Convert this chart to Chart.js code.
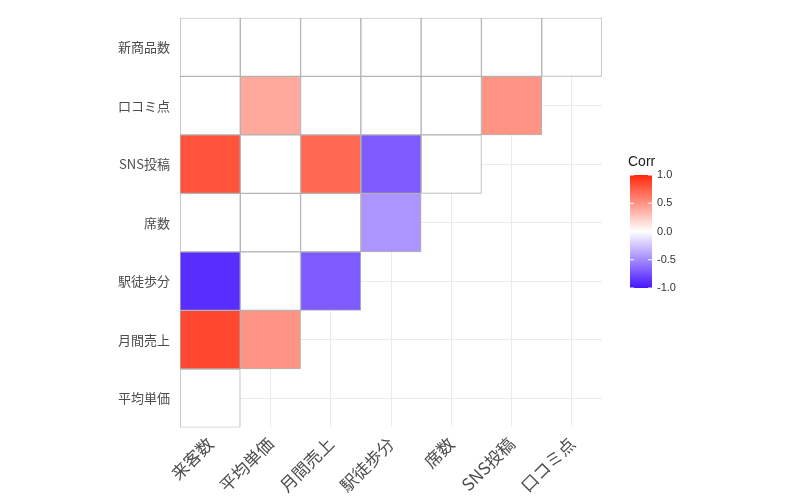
<!DOCTYPE html>
<html><head><meta charset="utf-8">
<script src="https://cdn.jsdelivr.net/npm/chart.js@4/dist/chart.umd.min.js"></script>
<style>body{margin:0;background:#fff}#wrap{width:798px;height:504px}</style>
</head><body><div id="wrap"><canvas id="c"></canvas></div>
<script>
// Variables on each axis
const xLabels = ['来客数', '平均単価', '月間売上', '駅徒歩分', '席数', 'SNS投稿', '口コミ点'];
const yLabels = ['平均単価', '月間売上', '駅徒歩分', '席数', 'SNS投稿', '口コミ点', '新商品数'];
// Lower-triangle correlations, row by row (bottom to top); 0 = shown as white
const corrRows = [
  [0],
  [0.85, 0.5],
  [-0.9, 0, -0.7],
  [0, 0, 0, -0.45],
  [0.8, 0, 0.7, -0.7, 0],
  [0, 0.4, 0, 0, 0, 0.5],
  [0, 0, 0, 0, 0, 0, 0]
];
const legendTicks = [1.0, 0.5, 0.0, -0.5, -1.0];

function corrColor(v) {
  const hi = [255, 40, 10], lo = [70, 20, 255];
  const c = v >= 0 ? hi : lo, t = Math.abs(v);
  const m = c.map(k => Math.round(255 + (k - 255) * t));
  return `rgb(${m[0]},${m[1]},${m[2]})`;
}

const datasets = corrRows.map((row, i) => ({
  data: row.map(() => [i, i + 1]),
  backgroundColor: row.map(corrColor),
  borderColor: '#b3b3b3',
  borderWidth: 1,
  borderSkipped: false,
  barPercentage: 1,
  categoryPercentage: 1,
  grouped: false
}));

// Gradient legend on the right
const legendPlugin = {
  id: 'corrLegend',
  afterDraw(chart) {
    const ctx = chart.ctx;
    const x = 630, top = 175, h = 113, w = 22;
    ctx.save();
    ctx.fillStyle = '#222';
    ctx.font = '14px "Liberation Sans", Arial';
    ctx.textBaseline = 'alphabetic';
    ctx.fillText('Corr', 628, 166);
    const g = ctx.createLinearGradient(0, top, 0, top + h);
    for (let k = 0; k <= 20; k++) g.addColorStop(k / 20, corrColor(1 - k / 10));
    ctx.fillStyle = g;
    ctx.fillRect(x, top, w, h);
    ctx.font = '11px "Liberation Sans", Arial';
    ctx.textBaseline = 'middle';
    legendTicks.forEach(t => {
      const y = top + (1 - t) / 2 * h;
      ctx.fillStyle = '#333';
      ctx.fillText(t.toFixed(1), x + w + 5, y);
      ctx.strokeStyle = '#fff';
      ctx.beginPath();
      ctx.moveTo(x, y); ctx.lineTo(x + 4, y);
      ctx.moveTo(x + w - 4, y); ctx.lineTo(x + w, y);
      ctx.stroke();
    });
    ctx.restore();
  }
};

new Chart(document.getElementById('c'), {
  type: 'bar',
  data: { labels: xLabels, datasets },
  options: {
    responsive: true,
    maintainAspectRatio: false,
    animation: false,
    layout: { padding: { top: 12, right: 196, left: 108, bottom: 2 } },
    plugins: { legend: { display: false }, tooltip: { enabled: false } },
    scales: {
      x: {
        grid: { offset: false, color: '#ebebeb', drawTicks: false },
        border: { display: false },
        ticks: {
          color: '#4d4d4d', maxRotation: 45, minRotation: 45, padding: 6,
          font: { size: 17, family: '"Noto Sans CJK JP", sans-serif' }
        }
      },
      y: {
        min: 0, max: 7,
        afterBuildTicks(axis) { axis.ticks = yLabels.map((_, i) => ({ value: i + 0.5 })); },
        grid: { color: '#ebebeb', drawTicks: false },
        border: { display: false },
        ticks: {
          color: '#4d4d4d', padding: 10,
          font: { size: 13, family: '"Noto Sans CJK JP", sans-serif' },
          callback: v => yLabels[Math.floor(v)]
        }
      }
    }
  },
  plugins: [legendPlugin]
});
</script></body></html>
